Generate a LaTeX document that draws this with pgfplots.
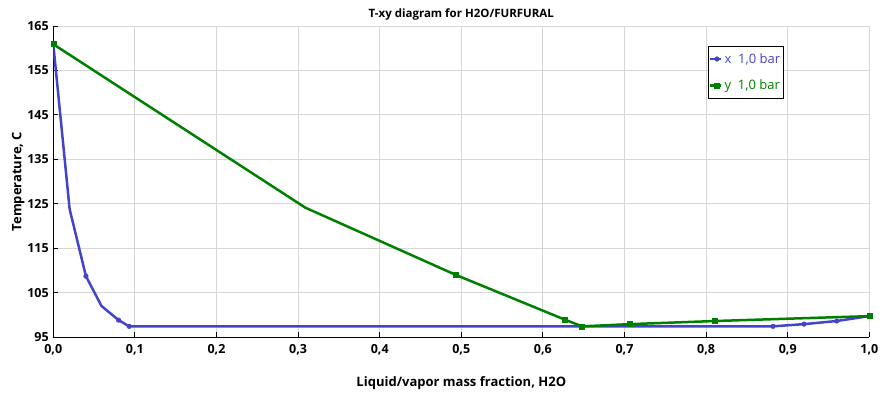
\documentclass[border=0pt]{standalone}
\usepackage{fontspec}
\setmainfont{Open Sans}
\usepackage{pgfplots}
\pgfplotsset{compat=1.18}
\definecolor{xblue}{RGB}{68,68,200}
\definecolor{ygreen}{RGB}{0,128,0}
\definecolor{gridgray}{RGB}{215,215,215}
\begin{document}
\begin{tikzpicture}
\begin{axis}[
  scale only axis,
  width=816pt, height=311pt,
  xmin=0, xmax=1, ymin=95, ymax=165,
  xtick={0,0.1,0.2,0.3,0.4,0.5,0.6,0.7,0.8,0.9,1.0},
  xticklabels={{\textbf{0,0}},{\textbf{0,1}},{\textbf{0,2}},{\textbf{0,3}},{\textbf{0,4}},{\textbf{0,5}},{\textbf{0,6}},{\textbf{0,7}},{\textbf{0,8}},{\textbf{0,9}},{\textbf{1,0}}},
  ytick={95,105,115,125,135,145,155,165},
  yticklabels={\textbf{95},\textbf{105},\textbf{115},\textbf{125},\textbf{135},\textbf{145},\textbf{155},\textbf{165}},
  axis x line*=bottom, axis y line*=left,
  axis line style={black, line width=1pt, -},
  grid=major,
  major grid style={gridgray, line width=1pt},
  tick align=inside,
  major tick length=5pt,
  tick style={black, line width=1pt},
  xticklabel style={font=\fontsize{12.5}{14}\selectfont\bfseries, yshift=-4pt},
  yticklabel style={font=\fontsize{12.5}{14}\selectfont\bfseries, xshift=-1pt},
  title={T-xy diagram for H2O/FURFURAL},
  title style={font=\fontsize{11.5}{13}\selectfont\bfseries, yshift=-4pt},
  xlabel={Liquid/vapor mass fraction, H2O},
  ylabel={Temperature, C},
  label style={font=\fontsize{13}{15}\selectfont\bfseries},
  xlabel style={yshift=-14pt},
  ylabel style={yshift=-4pt},
  legend style={at={(rel axis cs:0.802,0.936)}, anchor=north west,
    draw=black, line width=0.8pt, font=\fontsize{13}{15}\selectfont,
    inner xsep=1pt, inner ysep=5pt, row sep=11pt, cells={anchor=west}},
  legend cell align=left,
  legend image code/.code={
    \draw[#1, mark=none] (0pt,0pt) -- (11pt,0pt);
    \draw[#1, mark indices={1}] plot[only marks] coordinates {(6.5pt,0pt)};
  },
]
\addplot[color=xblue, line width=2.5pt, mark=*, mark size=2.3pt,
  mark indices={1,3,5,6,7,8,9,10}, mark options={solid, line width=0.5pt}]
  coordinates {
  (0,160.9) (0.02,123.8) (0.04,108.7) (0.059,102.0) (0.08,98.8)
  (0.093,97.4) (0.882,97.4) (0.92,97.9) (0.96,98.6) (1.0,99.7)
  };
\addlegendentry{\textcolor{xblue}{x\ \ 1,0 bar}}
\addplot[color=ygreen, line width=2.5pt, mark=square*, mark size=2.5pt,
  mark indices={1,3,4,5,6,7,8}, mark options={solid, line width=0.5pt}]
  coordinates {
  (0,160.9) (0.309,124.1) (0.493,109.0) (0.627,98.9) (0.648,97.4)
  (0.707,97.9) (0.811,98.6) (1.0,99.7)
  };
\addlegendentry{\textcolor{ygreen}{y\ \ 1,0 bar}}
\end{axis}
\pgfresetboundingbox
\path (-53.3pt,-55pt) rectangle (828.7pt,337pt);
\end{tikzpicture}
\end{document}
